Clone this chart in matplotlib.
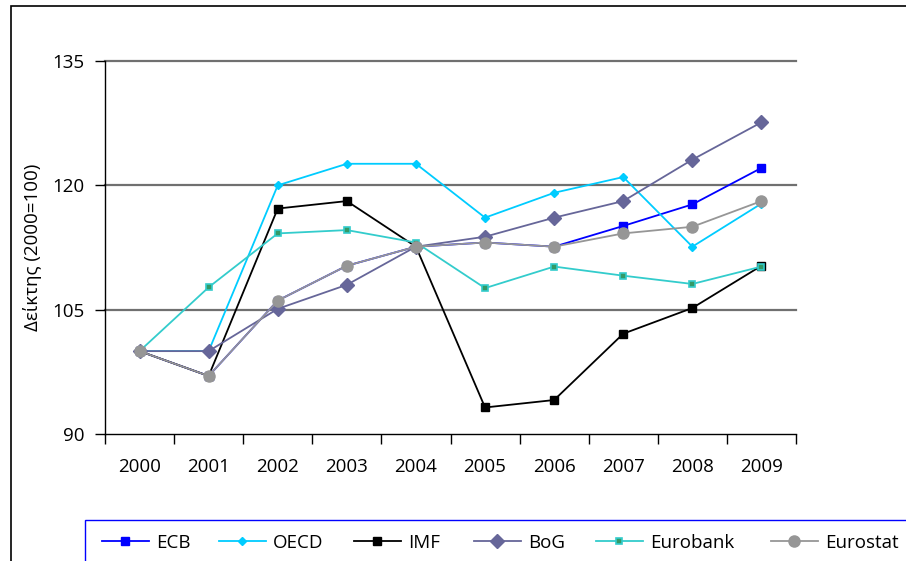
import matplotlib
matplotlib.use("Agg")
import matplotlib.pyplot as plt
from matplotlib.patches import Rectangle
import numpy as np

plt.rcParams['font.family'] = ['Open Sans', 'DejaVu Sans']

years = ['2000', '2001', '2002', '2003', '2004', '2005', '2006', '2007', '2008', '2009']
ecb = [100, 97, 106.1, 110.3, 112.6, 113.1, 112.6, 115.1, 117.7, 122.1]
oecd = [100, 100, 120.0, 122.6, 122.6, 116.1, 119.1, 121.0, 112.6, 117.8]
imf = [100, 97, 117.2, 118.1, 112.6, 93.2, 94.1, 102.1, 105.2, 110.3]
bog = [100, 100, 105.1, 108.0, 112.6, 113.8, 116.1, 118.1, 123.1, 127.6]
eurobank = [100, 107.7, 114.2, 114.6, 113.1, 107.6, 110.2, 109.1, 108.1, 110.2]
eurostat = [100, 97, 106.1, 110.3, 112.6, 113.1, 112.6, 114.2, 115.0, 118.1]

fig = plt.figure(figsize=(9.06, 5.61), dpi=100)
ax = fig.add_axes([105/906, 127/561, 691/906, 373/561])

x = np.arange(len(years))
lines = []
lines += ax.plot(x, ecb, color='#0000FF', lw=1.3, marker='s', ms=5.5, mfc='#0000FF', mec='#0000FF', label='ECB')
lines += ax.plot(x, oecd, color='#00CCFF', lw=1.3, marker='D', ms=4.5, mfc='#00CCFF', mec='#00CCFF', label='OECD')
lines += ax.plot(x, imf, color='black', lw=1.3, marker='s', ms=5.5, mfc='black', mec='black', label='IMF')
lines += ax.plot(x, bog, color='#666699', lw=1.3, marker='D', ms=7, mfc='#666699', mec='#666699', label='BoG')
lines += ax.plot(x, eurobank, color='#33CCCC', lw=1.3, marker='s', ms=5, mfc='#339966', mec='#33CCCC', mew=1.2, label='Eurobank')
lines += ax.plot(x, eurostat, color='#969696', lw=1.3, marker='o', ms=8, mfc='#969696', mec='#969696', label='Eurostat')

ax.set_xlim(-0.5, 9.5)
ax.set_ylim(90, 135)
ax.set_yticks([90, 105, 120, 135])
ax.tick_params(axis='y', direction='out', length=7, width=1, labelsize=13.5, pad=8)
ax.set_xticks(np.arange(-0.5, 10, 1))
ax.set_xticklabels([])
ax.tick_params(axis='x', which='major', direction='out', length=7, width=1)
ax.set_xticks(x, minor=True)
ax.set_xticklabels(years, minor=True)
ax.tick_params(axis='x', which='minor', length=0, labelsize=13.5, pad=17)

for v in [105, 120, 135]:
    ax.axhline(v, color='#707070', lw=1.6, zorder=0.5, clip_on=False)

ax.spines['top'].set_visible(False)
ax.spines['right'].set_visible(False)
ax.spines['left'].set_linewidth(1)
ax.spines['bottom'].set_linewidth(1)

ax.set_ylabel('Δείκτης (2000=100)', fontsize=13.5, labelpad=7)

# outer chart frame and legend box (cut off by the image edge)
fig.patches.append(Rectangle((11/906, -0.05), 1.0, 1 - 6/561 + 0.05, transform=fig.transFigure,
                             fill=False, edgecolor='black', lw=1.2))
fig.patches.append(Rectangle((85/906, -0.05), 1.0, (561 - 520)/561 + 0.05, transform=fig.transFigure,
                             fill=False, edgecolor='#0000FF', lw=1))

# one legend entry per series, spread like the original
legend_x = [102, 219, 354, 474, 596, 771]
for ln, lx in zip(lines, legend_x):
    fig.legend(handles=[ln], loc='center left', bbox_to_anchor=(lx/906, 1 - 543/561), frameon=False,
               fontsize=13.5, handlelength=2.5, handletextpad=0.4, borderaxespad=0, borderpad=0)

fig.savefig('out.png', dpi=100)
